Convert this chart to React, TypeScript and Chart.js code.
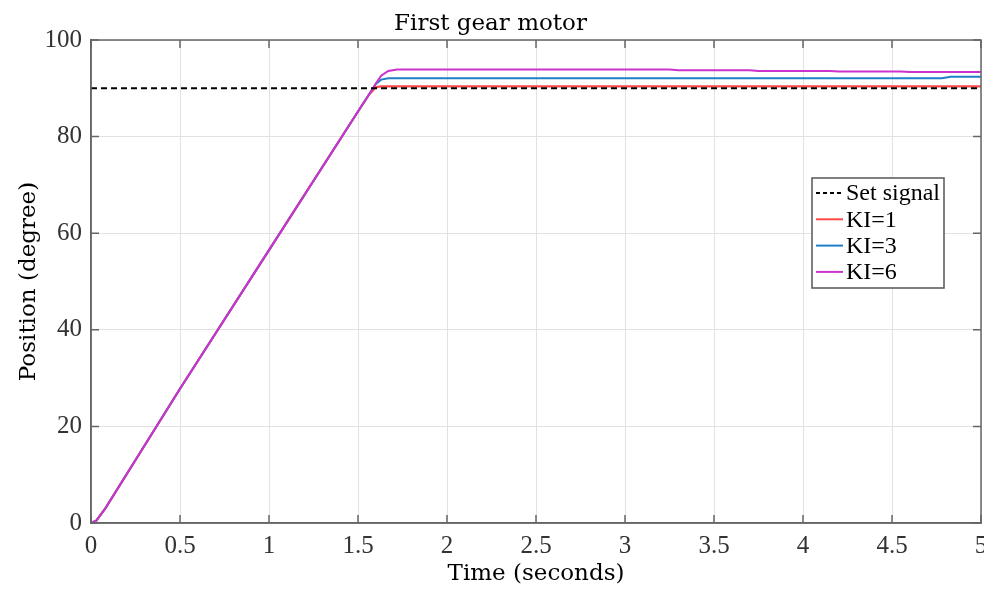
import React, { useEffect, useRef } from 'react';
import { Chart, registerables } from 'chart.js';

Chart.register(...registerables);

// ---- data ----
const time = [0, 0.03, 0.08, 0.5, 1.0, 1.5, 1.56, 1.6, 1.63, 1.67, 1.72, 1.8, 3.25, 3.3, 3.7, 3.75, 4.15, 4.2, 4.55, 4.6, 4.78, 4.83, 5];
const ki1 = [0, 0.5, 3.0, 27.8, 56.5, 85.2, 88.6, 90.2, 90.4, 90.4, 90.4, 90.4, 90.4, 90.4, 90.4, 90.4, 90.4, 90.4, 90.4, 90.4, 90.4, 90.4, 90.4];
const ki3 = [0, 0.5, 3.0, 27.8, 56.5, 85.2, 88.6, 90.9, 91.8, 92.1, 92.1, 92.1, 92.1, 92.1, 92.1, 92.1, 92.1, 92.1, 92.1, 92.1, 92.1, 92.4, 92.4];
const ki6 = [0, 0.5, 3.0, 27.8, 56.5, 85.2, 88.6, 91.0, 92.6, 93.6, 93.9, 93.9, 93.9, 93.75, 93.75, 93.6, 93.6, 93.5, 93.5, 93.35, 93.35, 93.35, 93.35];
const setTime = [0, 5];
const setSignal = [90, 90];

const seriesLabels = ['Set signal', 'KI=1', 'KI=3', 'KI=6'];
const titleText = 'First gear motor';
const xLabel = 'Time (seconds)';
const yLabel = 'Position (degree)';

const toPoints = (xs: number[], ys: number[]) => xs.map((x, i) => ({ x, y: ys[i] }));

const framePlugin = {
  id: 'frameAndLegend',
  afterDraw(chart: any) {
    const { ctx, chartArea, scales } = chart;
    const { left, right, top, bottom } = chartArea;
    const x = scales.x;
    const y = scales.y;
    ctx.save();
    ctx.strokeStyle = '#666666';
    ctx.lineWidth = 1.5;
    ctx.strokeRect(left, top, right - left, bottom - top);
    const L = 8;
    ctx.beginPath();
    x.ticks.forEach((t: any) => {
      const px = x.getPixelForValue(t.value);
      ctx.moveTo(px, bottom);
      ctx.lineTo(px, bottom - L);
      ctx.moveTo(px, top);
      ctx.lineTo(px, top + L);
    });
    y.ticks.forEach((t: any) => {
      const py = y.getPixelForValue(t.value);
      ctx.moveTo(left, py);
      ctx.lineTo(left + L, py);
      ctx.moveTo(right, py);
      ctx.lineTo(right - L, py);
    });
    ctx.stroke();

    // legend box
    const bw = 132;
    const bh = 110;
    const bx = right - 37 - bw;
    const by = top + 138;
    ctx.fillStyle = '#ffffff';
    ctx.fillRect(bx, by, bw, bh);
    ctx.strokeStyle = '#555555';
    ctx.lineWidth = 1.5;
    ctx.strokeRect(bx, by, bw, bh);
    ctx.font = '24px "Liberation Serif"';
    ctx.textBaseline = 'middle';
    ctx.textAlign = 'left';
    chart.data.datasets.forEach((ds: any, i: number) => {
      const cy = by + 15 + i * 26.3;
      ctx.save();
      ctx.strokeStyle = ds.borderColor;
      ctx.lineWidth = 2;
      ctx.setLineDash(ds.borderDash && ds.borderDash.length ? [4, 3] : []);
      ctx.beginPath();
      ctx.moveTo(bx + 4, cy);
      ctx.lineTo(bx + 31, cy);
      ctx.stroke();
      ctx.restore();
      ctx.fillStyle = '#000000';
      ctx.fillText(ds.label, bx + 34, cy + 1);
    });
    ctx.restore();
  },
};

export default function App() {
  const ref = useRef<HTMLCanvasElement>(null);
  useEffect(() => {
    if (!ref.current) return;
    const chart = new Chart(ref.current, {
      type: 'line',
      data: {
        datasets: [
          {
            label: seriesLabels[0],
            data: toPoints(setTime, setSignal),
            borderColor: '#000000',
            borderDash: [6, 4],
            borderWidth: 2,
            pointRadius: 0,
            order: 0,
          },
          {
            label: seriesLabels[1],
            data: toPoints(time, ki1),
            borderColor: '#ff4a4a',
            borderWidth: 2.2,
            pointRadius: 0,
            order: 3,
          },
          {
            label: seriesLabels[2],
            data: toPoints(time, ki3),
            borderColor: '#1f7fc8',
            borderWidth: 2,
            pointRadius: 0,
            order: 2,
          },
          {
            label: seriesLabels[3],
            data: toPoints(time, ki6),
            borderColor: '#cc33cc',
            borderWidth: 2,
            pointRadius: 0,
            order: 1,
          },
        ],
      },
      options: {
        animation: false,
        responsive: false,
        devicePixelRatio: 1,
        layout: { padding: { left: 0, right: 3, top: 0, bottom: 0 } },
        plugins: {
          legend: { display: false },
          tooltip: { enabled: false },
          title: {
            display: true,
            text: titleText,
            color: '#000000',
            font: { family: '"DejaVu Serif"', size: 23, weight: 'normal' },
            padding: { top: 10, bottom: 2.4 },
          },
        },
        scales: {
          x: {
            type: 'linear',
            min: 0,
            max: 5,
            ticks: {
              stepSize: 0.5,
              color: '#333333',
              font: { family: '"Liberation Serif"', size: 25 },
              padding: 8,
              maxRotation: 0,
              autoSkip: false,
              callback: (v: any) => String(v),
            },
            grid: { color: '#e2e2e2', lineWidth: 1, drawTicks: false },
            border: { display: true, color: '#666666', width: 1.5 },
            title: {
              display: true,
              text: xLabel,
              color: '#000000',
              font: { family: '"DejaVu Serif"', size: 23, weight: 'normal' },
              padding: { top: 0, bottom: 1 },
            },
            afterFit: (s: any) => {
              s.height = 66;
              s.paddingLeft = 0;
              s.paddingRight = 0;
            },
          },
          y: {
            type: 'linear',
            min: 0,
            max: 100,
            ticks: {
              stepSize: 20,
              color: '#333333',
              font: { family: '"Liberation Serif"', size: 25 },
              padding: 9,
            },
            grid: { color: '#e2e2e2', lineWidth: 1, drawTicks: false },
            border: { display: true, color: '#666666', width: 1.5 },
            title: {
              display: true,
              text: yLabel,
              color: '#000000',
              font: { family: '"DejaVu Serif"', size: 23, weight: 'normal' },
              padding: { top: 15, bottom: 0 },
            },
            afterFit: (s: any) => {
              s.width = 91;
              s.paddingTop = 0;
              s.paddingBottom = 0;
            },
          },
        },
      },
      plugins: [framePlugin],
    });
    return () => chart.destroy();
  }, []);
  return (
    <div style={{ position: 'fixed', left: 0, top: 0, width: 984, height: 589, background: '#ffffff' }}>
      <canvas ref={ref} width={984} height={589} />
    </div>
  );
}
